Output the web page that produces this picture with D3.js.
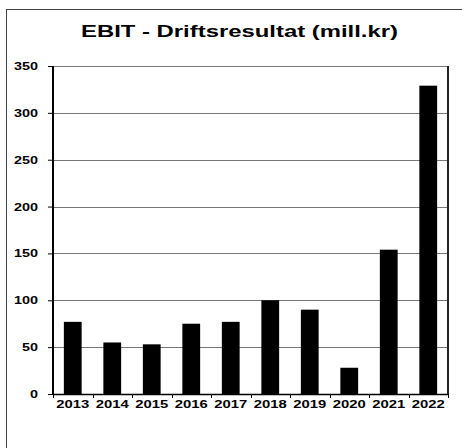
<!DOCTYPE html>
<html>
<head>
<meta charset="utf-8">
<script src="https://cdn.jsdelivr.net/npm/d3@7"></script>
<style>
  body { margin: 0; background: #fff; }
  svg { display: block; }
</style>
</head>
<body>
<div id="container"></div>
<script>
// chart data
var years = ["2013", "2014", "2015", "2016", "2017", "2018", "2019", "2020", "2021", "2022"];
var ebit = [77, 55, 53, 75, 77, 100, 90, 28, 154, 329];
var yTicks = [0, 50, 100, 150, 200, 250, 300, 350];

var svgWidth = 462, svgHeight = 448;
var margin = { top: 66, right: 14, bottom: 54, left: 53 },
    width = svgWidth - margin.left - margin.right,
    height = svgHeight - margin.top - margin.bottom;

var font = "Liberation Sans, Arial, sans-serif";

var root = d3.select("div#container")
    .append("svg")
    .attr("width", svgWidth)
    .attr("height", svgHeight);

// outer frame (runs off the right/bottom edge)
root.append("rect")
    .attr("x", 6.5)
    .attr("y", 9.5)
    .attr("width", 470)
    .attr("height", 460)
    .attr("fill", "none")
    .attr("stroke", "#444")
    .attr("stroke-width", 1);

// title (wide bold face -> stretch)
root.append("text")
    .attr("x", 239.5)
    .attr("y", 37)
    .attr("text-anchor", "middle")
    .attr("textLength", 317)
    .attr("lengthAdjust", "spacingAndGlyphs")
    .style("font-family", font)
    .style("font-weight", "bold")
    .style("font-size", "17px")
    .text("EBIT - Driftsresultat (mill.kr)");

var svg = root.append("g")
    .attr("transform", "translate(" + margin.left + "," + margin.top + ")");

// --- SCALES ---
var x = d3.scaleBand()
    .domain(years)
    .range([0, width])
    .paddingInner(0.55)
    .paddingOuter(0.275);

var y = d3.scaleLinear()
    .domain([0, 350])
    .range([height, 0]);

// --- LEFT AXIS ---
var yAxis = svg.append("g")
    .call(d3.axisLeft(y).tickValues(yTicks).tickSize(5).tickPadding(10));
yAxis.select(".domain").remove();
yAxis.selectAll("line").attr("stroke", "#000");
yAxis.selectAll("text")
    .attr("textLength", d => String(d).length * 8)
    .attr("lengthAdjust", "spacingAndGlyphs")
    .style("font-family", font)
    .style("font-weight", "bold")
    .style("font-size", "11px")
    .attr("fill", "#000");

// --- GRID ---
svg.selectAll(".grid")
    .data(yTicks.filter(d => d > 0))
    .enter()
    .append("line")
    .attr("class", "grid")
    .attr("x1", 0)
    .attr("x2", width)
    .attr("y1", d => Math.round(y(d)) + 0.5)
    .attr("y2", d => Math.round(y(d)) + 0.5)
    .attr("stroke", "#777")
    .attr("stroke-width", 1);

// --- BARS ---
svg.selectAll(".bar")
    .data(ebit)
    .enter()
    .append("rect")
    .attr("class", "bar")
    .attr("x", (d, i) => x(years[i]))
    .attr("y", d => y(d))
    .attr("width", x.bandwidth())
    .attr("height", d => height - y(d))
    .attr("fill", "#000");

// --- BOTTOM AXIS (ticks between categories) ---
var step = x.step();
svg.selectAll(".xtick")
    .data(d3.range(years.length + 1))
    .enter()
    .append("line")
    .attr("class", "xtick")
    .attr("x1", i => Math.round(i * step) + 0.5)
    .attr("x2", i => Math.round(i * step) + 0.5)
    .attr("y1", height)
    .attr("y2", height + 4)
    .attr("stroke", "#000");

svg.selectAll(".xlabel")
    .data(years)
    .enter()
    .append("text")
    .attr("class", "xlabel")
    .attr("x", d => x(d) + x.bandwidth() / 2)
    .attr("y", height + 14)
    .attr("text-anchor", "middle")
    .attr("textLength", 33)
    .attr("lengthAdjust", "spacingAndGlyphs")
    .style("font-family", font)
    .style("font-weight", "bold")
    .style("font-size", "11px")
    .text(d => d);

// axis lines
svg.append("line")
    .attr("x1", 0).attr("x2", width)
    .attr("y1", height + 0.5).attr("y2", height + 0.5)
    .attr("stroke", "#000").attr("stroke-width", 1.5);
svg.append("line")
    .attr("x1", 0).attr("x2", 0)
    .attr("y1", 0).attr("y2", height)
    .attr("stroke", "#000").attr("stroke-width", 2);
svg.append("line")
    .attr("x1", width).attr("x2", width)
    .attr("y1", 0).attr("y2", height)
    .attr("stroke", "#222").attr("stroke-width", 2);
</script>
</body>
</html>
